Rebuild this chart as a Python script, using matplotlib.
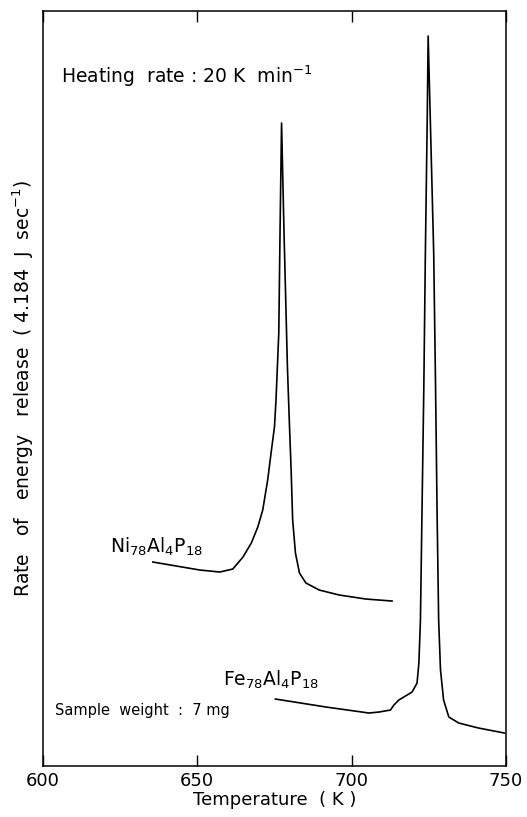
import matplotlib
matplotlib.use("Agg")
import matplotlib.pyplot as plt

# Ni78Al4P18 curve (temperature K, signal in arbitrary units)
ni_T = [635.6, 650.8, 657.3, 661.5, 664.8, 667.5, 669.6, 671.2, 672.8, 673.9, 675.0, 675.5,
        676.4, 676.8, 677.3,
        678.1, 679.2, 679.8, 680.4, 680.9, 681.8, 683.1, 685.2, 689.5, 696.0, 704.6, 713.1]
ni_y = [204, 196, 194, 197, 209, 223, 239, 256, 286, 313, 339, 366,
        433, 533, 643,
        533, 399, 346, 296, 246, 213, 193, 183, 176, 171, 167, 165]

# Fe78Al4P18 curve
fe_T = [675.3, 691.7, 705.6, 708.9, 712.6, 713.7, 715.3, 719.6, 721.2, 721.8, 722.3, 722.8,
        723.4, 723.9, 724.5, 724.8, 725.5, 726.6, 727.2, 727.7, 728.2, 728.8, 729.8, 731.5,
        734.7, 741.1, 749.5]
fe_y = [67, 59, 53, 54, 56, 61, 66, 74, 83, 103, 146, 253,
        379, 513, 646, 730, 646, 513, 379, 253, 146, 96, 66, 49,
        43, 38, 33]

xticks = [600, 650, 700, 750]
xticklabels = ["600", "650", "700", "750"]

fig = plt.figure(figsize=(5.27, 8.17), dpi=100)
ax = fig.add_axes([0.0816, 0.0624, 0.8784, 0.9241])

ax.plot(ni_T, ni_y, color="black", lw=1.2, solid_joinstyle="round")
ax.plot(fe_T, fe_y, color="black", lw=1.2, solid_joinstyle="round")

ax.set_xlim(600, 750)
ax.set_ylim(0, 755)
ax.set_xticks(xticks)
ax.set_xticklabels(xticklabels, fontsize=13)
ax.set_yticks([])
ax.tick_params(axis="x", direction="in", length=8, width=1, top=True, pad=4)
for s in ax.spines.values():
    s.set_linewidth(1.1)

ax.set_xlabel("Temperature  ( K )", fontsize=13, labelpad=1)
ax.set_ylabel("Rate   of   energy   release  ( 4.184  J  sec$^{-1}$)", fontsize=13.5,
              labelpad=5)

ax.text(0.038, 0.905, "Heating  rate : 20 K  min$^{-1}$", transform=ax.transAxes,
        fontsize=13.5, va="baseline", ha="left")
ax.text(0.145, 0.283, "Ni$_{78}$Al$_{4}$P$_{18}$", transform=ax.transAxes,
        fontsize=13.5, va="baseline", ha="left")
ax.text(0.389, 0.107, "Fe$_{78}$Al$_{4}$P$_{18}$", transform=ax.transAxes,
        fontsize=13.5, va="baseline", ha="left")
ax.text(0.025, 0.068, "Sample  weight  :  7 mg", transform=ax.transAxes,
        fontsize=10.5, va="baseline", ha="left")

fig.savefig("out.png", dpi=100)
